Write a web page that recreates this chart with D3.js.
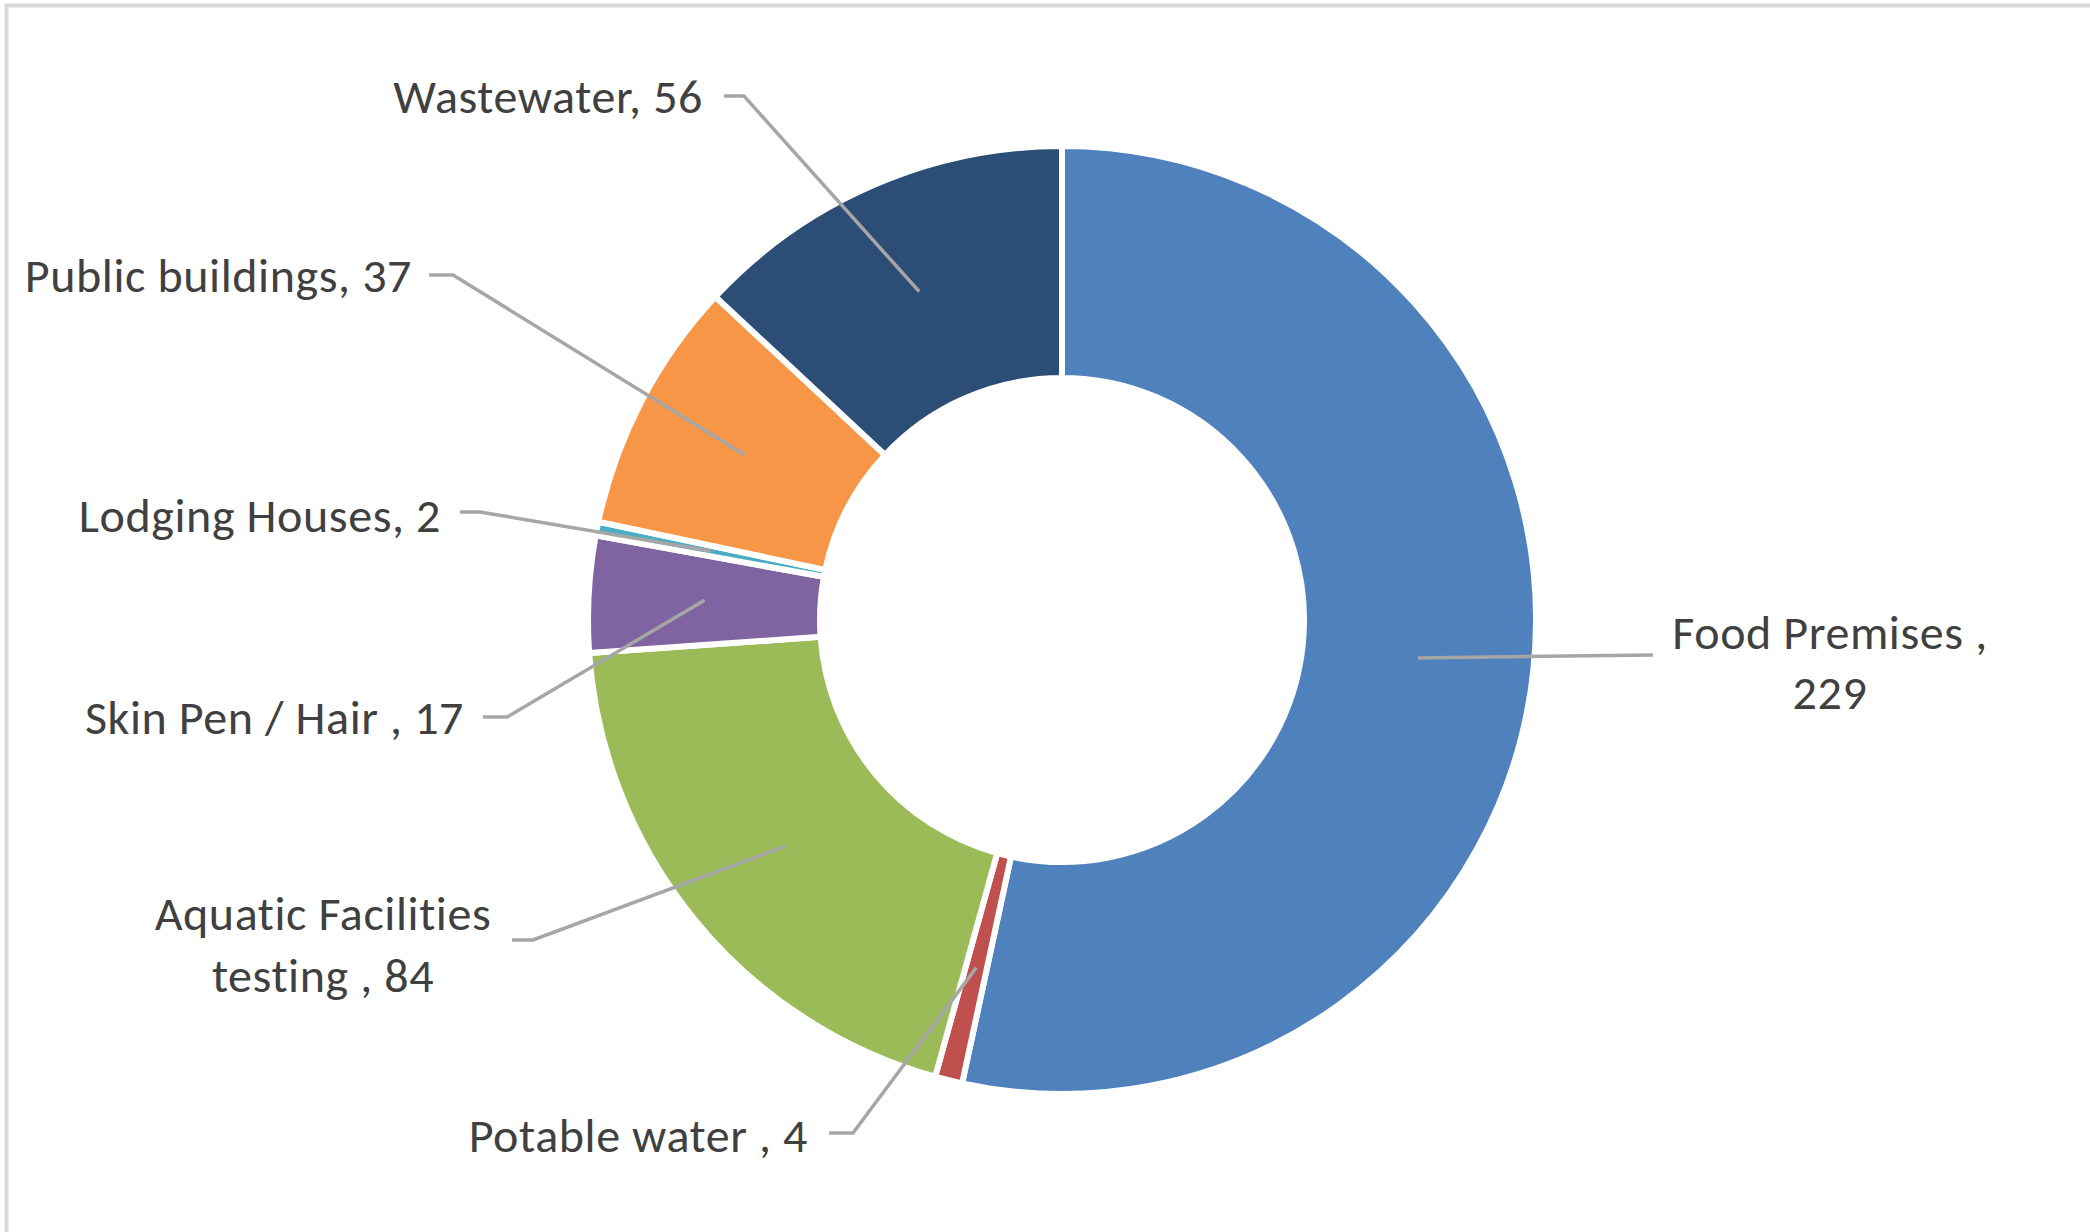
<!DOCTYPE html>
<html>
<head>
<meta charset="utf-8">
<script src="https://cdn.jsdelivr.net/npm/d3@7"></script>
<style>
  html, body { margin: 0; padding: 0; background: #fff; }
  svg { display: block; }
</style>
</head>
<body>
<svg id="chart" width="2090" height="1232"></svg>
<script>
// ---- data ----
const categories = ["Food Premises", "Potable water", "Aquatic Facilities testing", "Skin Pen / Hair", "Lodging Houses", "Public buildings", "Wastewater"];
const values = [229, 4, 84, 17, 2, 37, 56];
const labelTexts = [
  ["Food Premises ,", "229"],
  ["Potable water , 4"],
  ["Aquatic Facilities", "testing , 84"],
  ["Skin Pen / Hair , 17"],
  ["Lodging Houses, 2"],
  ["Public buildings, 37"],
  ["Wastewater, 56"]
];
const colors = ["#4F81BD", "#C0504D", "#9BBB59", "#8064A2", "#4BACC6", "#F79646", "#2C4D75"];

// ---- layout (label placement) ----
const labelLayout = [
  { elbow: [1653, 655], tick: 0,  tx: 1830, ty: [632, 692], anchor: "middle" },
  { elbow: [853, 1133], tick: 24, tx: 808,  ty: [1135], anchor: "end" },
  { elbow: [533, 940],  tick: 21, tx: 323,  ty: [913, 975], anchor: "middle" },
  { elbow: [507, 717],  tick: 24, tx: 464,  ty: [717], anchor: "end" },
  { elbow: [480, 512],  tick: 20, tx: 441,  ty: [515], anchor: "end" },
  { elbow: [453, 275],  tick: 24, tx: 412,  ty: [275], anchor: "end" },
  { elbow: [744, 96],   tick: 20, tx: 703,  ty: [96], anchor: "end" }
];

const W = 2090, H = 1232;
const cx = 1062, cy = 620, rOuter = 474, rInner = 242;

const svg = d3.select("#chart");

// chart frame
svg.append("rect")
  .attr("x", 6.5).attr("y", 5.5)
  .attr("width", W + 20).attr("height", H + 20)
  .attr("fill", "#fff")
  .attr("stroke", "#D9D9D9")
  .attr("stroke-width", 4);

const data = categories.map((c, i) => ({ name: c, value: values[i], idx: i }));

const pie = d3.pie().value(d => d.value).sort(null);
const arcs = pie(data);
const arc = d3.arc().innerRadius(rInner).outerRadius(rOuter);

const g = svg.append("g").attr("transform", `translate(${cx},${cy})`);

g.selectAll("path.slice")
  .data(arcs)
  .join("path")
  .attr("class", "slice")
  .attr("d", arc)
  .attr("fill", d => colors[d.data.idx])
  .attr("stroke", "#fff")
  .attr("stroke-width", 6)
  .attr("stroke-linejoin", "miter");

// leader lines
const leaders = svg.append("g");
arcs.forEach(a => {
  const L = labelLayout[a.data.idx];
  const c = arc.centroid(a);
  const p0 = [cx + c[0], cy + c[1]];
  const pts = [p0, L.elbow];
  if (L.tick > 0) pts.push([L.elbow[0] - L.tick, L.elbow[1]]);
  leaders.append("path")
    .attr("d", d3.line()(pts))
    .attr("fill", "none")
    .attr("stroke", "#A6A6A6")
    .attr("stroke-width", 3.5);
});

// labels
const labels = svg.append("g")
  .attr("font-family", "Carlito, Calibri, Lato, 'Open Sans', sans-serif")
  .attr("font-size", 48)
  .attr("letter-spacing", 0.6)
  .attr("fill", "#404040");
arcs.forEach(a => {
  const L = labelLayout[a.data.idx];
  const lines = labelTexts[a.data.idx];
  lines.forEach((t, k) => {
    labels.append("text")
      .attr("x", L.tx)
      .attr("y", L.ty[k])
      .attr("text-anchor", L.anchor)
      .attr("dominant-baseline", "central")
      .text(t);
  });
});
</script>
</body>
</html>
